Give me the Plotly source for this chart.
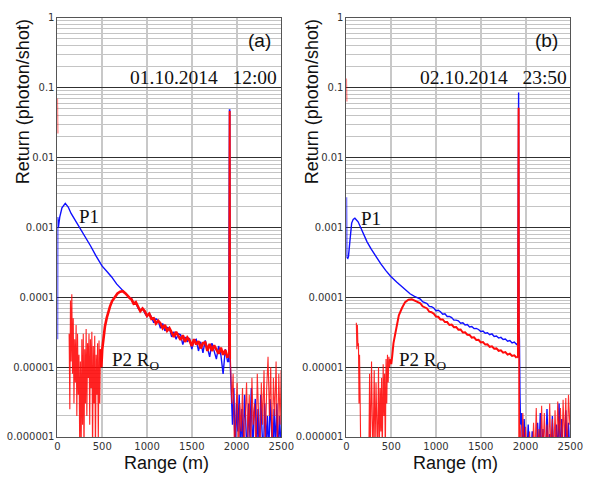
import plotly.graph_objects as go

W, H = 593, 483

# ---------------- data (range in m, return in photon/shot) ----------------
# regularly sampled stretch of the decay curves (sample positions)
r_decay = list(range(825, 1901, 25))

# ---- panel (a) 01.10.2014 12:00 ----
a_p1_r_near = [0, 2, 5, 10, 25, 50, 87, 120, 152, 200, 261, 310, 370, 430, 497, 550, 605, 660, 714, 760, 800]
a_p1_v_near = [2.5e-5, 1.4e-3, 4.0e-4, 1.0e-3, 1.4e-3, 1.9e-3, 2.2e-3, 1.95e-3, 1.58e-3, 1.25e-3, 9.3e-4,
               7.4e-4, 5.4e-4, 3.9e-4, 2.8e-4, 2.35e-4, 1.95e-4, 1.55e-4, 1.3e-4, 1.15e-4, 1.0e-4]
a_p1_v_decay = [9.6e-5, 8.1e-5, 8.3e-5, 7.0e-5, 6.4e-5, 7.0e-5, 5.9e-5, 5.3e-5, 5.9e-5, 5.2e-5, 4.3e-5,
                4.9e-5, 4.6e-5, 3.6e-5, 4.2e-5, 3.3e-5, 3.7e-5, 3.6e-5, 2.7e-5, 3.2e-5, 2.5e-5, 3.0e-5,
                2.9e-5, 2.1e-5, 2.7e-5, 2.3e-5, 2.6e-5, 1.8e-5, 2.4e-5, 2.5e-5, 1.7e-5, 2.3e-5, 1.6e-5,
                2.4e-5, 1.9e-5, 1.4e-5, 2.2e-5, 1.7e-5, 1.3e-5, 2.0e-5, 1.5e-5, 8e-6, 1.8e-5, 1.2e-5]
a_p1_r_far = [1912, 1921, 1925, 1930, 1940, 1955, 1970, 1985, 2000, 2015, 2030, 2045, 2060, 2075, 2090, 2105,
              2120, 2135, 2150, 2165, 2180, 2195, 2210, 2225, 2240, 2255, 2270, 2285, 2300, 2315, 2330,
              2345, 2360, 2375, 2390, 2405, 2420, 2435, 2450, 2465, 2480, 2495]
a_p1_v_far = [1.2e-5, 4.8e-2, 4.8e-2, 1.1e-5, 6e-6, 1.5e-6, 5e-6, 5e-7, 3e-6, 1.2e-6, 4e-6, 5e-7, 2.5e-6,
              6e-7, 4e-6, 1.5e-6, 5e-7, 3e-6, 1.0e-6, 5e-6, 5e-7, 2e-6, 3.5e-6, 6e-7, 2.5e-6, 5e-7, 4e-6,
              1.2e-6, 5e-7, 3e-6, 8e-7, 2e-6, 5e-7, 3.5e-6, 1e-6, 5e-7, 2.5e-6, 7e-7, 3e-6, 5e-7, 2e-6, 8e-7]

a_p2_r_near = [0, 3, None, 130, 138, 145, 152, 160, 168, 176, 184, 192, 200, 208, 216, 224, 232, 240, 248, 256,
               264, 272, 280, 288, 296, 304, 312, 320, 328, 336, 344, 352, 360, 368, 376, 384, 392, 400, 408,
               416, 424, 432, 440, 448, 456, 464, 472, 480]
a_p2_v_near = [0.07, 0.022, None, 3e-5, 2.5e-6, 9e-5, 1.2e-5, 1.1e-4, 8e-6, 5e-5, 3e-6, 2.5e-5, 6e-6, 4e-5,
               2e-6, 3e-5, 4e-6, 1.5e-5, 8e-7, 1.2e-5, 5e-7, 2.5e-5, 1.5e-6, 3e-5, 5e-7, 1.8e-5, 3e-6, 3.5e-5,
               2e-6, 2.2e-5, 7e-6, 3e-5, 1.5e-6, 2.5e-5, 5e-6, 3.2e-5, 5e-7, 2e-5, 3e-6, 2.8e-5, 5e-7, 1.5e-5,
               4e-6, 2.2e-5, 8e-7, 2.4e-5, 3e-6, 1.8e-5]
a_p2_r_rise = [480, 490, 500, 515, 530, 551, 570, 587, 610, 641, 670, 700, 730, 760, 790, 810]
a_p2_v_rise = [1.8e-5, 1.0e-5, 1.8e-5, 2.8e-5, 3.8e-5, 5.1e-5, 6.4e-5, 7.4e-5, 8.8e-5, 1.02e-4, 1.13e-4,
               1.2e-4, 1.22e-4, 1.13e-4, 1.02e-4, 9.6e-5]
a_p2_v_decay = [9.4e-5, 8.1e-5, 8.5e-5, 7.4e-5, 6.3e-5, 6.9e-5, 6.3e-5, 5.4e-5, 5.8e-5, 4.9e-5, 5.0e-5,
                4.2e-5, 4.6e-5, 4.2e-5, 3.6e-5, 4.0e-5, 3.3e-5, 3.6e-5, 3.05e-5, 2.7e-5, 3.2e-5, 2.8e-5,
                2.45e-5, 2.85e-5, 2.3e-5, 2.65e-5, 2.4e-5, 2.0e-5, 2.5e-5, 2.1e-5, 2.35e-5, 1.85e-5, 2.2e-5,
                2.25e-5, 1.7e-5, 2.15e-5, 1.7e-5, 2.05e-5, 1.75e-5, 1.55e-5, 1.9e-5, 1.5e-5, 1.75e-5, 1.35e-5]
a_p2_r_spike = [1900, 1915, 1922, 1926, 1930]
a_p2_v_spike = [1.35e-5, 1.6e-5, 4.5e-2, 4.5e-2, 1.3e-5]
a_p2_r_far = [1930, 1932, 1947, 1962, 1977, 1992, 2007, 2022, 2037, 2052, 2067, 2082, 2097, 2112, 2127, 2142,
              2157, 2172, 2187, 2202, 2217, 2232, 2247, 2262, 2277, 2292, 2307, 2322, 2337, 2352, 2367, 2382,
              2397, 2412, 2427, 2442, 2457, 2472, 2487, 2498]
a_p2_v_far = [1.3e-5, 1.3e-5, 3e-6, 8e-6, 6e-7, 2.5e-6, 6e-6, 5e-7, 3e-6, 1.2e-6, 5e-6, 5e-7, 2e-6, 6e-6, 1e-6,
              4e-6, 5e-7, 7e-6, 1.5e-6, 3e-6, 5e-7, 8e-6, 2e-6, 5e-7, 6e-6, 1.5e-6, 9e-6, 7e-7, 5e-6, 1.4e-5,
              2e-6, 1e-5, 5e-7, 7e-6, 2e-6, 1.2e-5, 5e-7, 8e-6, 1.5e-6, 9e-6]

# ---- panel (b) 02.10.2014 23:50 ----
b_p1_r_near = [0, 3, 15, 22, 40, 58, 75, 94, 130, 185, 230, 275, 330, 384, 440, 493, 560, 638, 710, 760, 800]
b_p1_v_near = [2.7e-3, 3.7e-4, 3.6e-4, 3.8e-4, 6.7e-4, 1.15e-3, 1.3e-3, 1.35e-3, 1.2e-3, 8.3e-4, 6.2e-4,
               4.9e-4, 3.8e-4, 3.0e-4, 2.4e-4, 2.0e-4, 1.65e-4, 1.34e-4, 1.12e-4, 1.03e-4, 9.6e-5]
b_p1_v_decay = [9.4e-5, 8.6e-5, 8.4e-5, 8.1e-5, 7.4e-5, 7.3e-5, 7.0e-5, 6.4e-5, 6.5e-5, 6.2e-5, 5.7e-5,
                5.8e-5, 5.3e-5, 5.3e-5, 5.1e-5, 4.7e-5, 4.7e-5, 4.6e-5, 4.25e-5, 4.3e-5, 4.0e-5, 4.05e-5,
                3.75e-5, 3.8e-5, 3.55e-5, 3.58e-5, 3.45e-5, 3.22e-5, 3.28e-5, 3.05e-5, 3.1e-5, 2.9e-5, 2.98e-5,
                2.74e-5, 2.78e-5, 2.6e-5, 2.66e-5, 2.48e-5, 2.52e-5, 2.35e-5, 2.4e-5, 2.22e-5, 2.28e-5, 2.1e-5]
b_p1_r_far = [1913, 1920, 1923, 1927, 1932, 1938, 1945, 1955, 1970, 1985, 2000, 2015, 2030, 2045, 2060, 2075,
              2090, 2105, 2120, 2135, 2150, 2165, 2180, 2195, 2210, 2225, 2240, 2255, 2270, 2285, 2300, 2315,
              2330, 2345, 2360, 2375, 2390, 2405, 2420, 2435, 2450, 2465, 2480, 2495]
b_p1_v_far = [2.2e-5, 8.5e-2, 8.5e-2, 3.5e-5, 2.5e-5, 4e-6, 1.5e-6, 2.2e-6, 5e-7, 1.8e-6, 5e-7, 5e-7, 1.5e-6,
              5e-7, 5e-7, 1.2e-6, 5e-7, 5e-7, 5e-7, 1.6e-6, 5e-7, 2.2e-6, 5e-7, 1.3e-6, 5e-7, 5e-7, 2.5e-6,
              5e-7, 1.1e-6, 5e-7, 2e-6, 5e-7, 5e-7, 1.5e-6, 5e-7, 3e-6, 5e-7, 1.8e-6, 5e-7, 5e-7, 2.4e-6,
              5e-7, 1.6e-6, 5e-7]

b_p2_r_near = [0, 3, None, 110, 116, 122, 128, 134, 140, 146, 152, 160, 250, 258, 266, 280, 288, 296, 310, 318,
               330, 338, 346, 358, 366, 376, 384, 392, 400, 410, 418, 426, 434, 442, 450, 458, 466, 474, 482, 490]
b_p2_v_near = [0.135, 0.063, None, 4.3e-5, 1.8e-5, 4.0e-5, 2.0e-5, 2.2e-5, 3e-6, 1.5e-5, 4e-6, 5e-7, 5e-7,
               8e-6, 5e-7, 1.2e-5, 2e-6, 5e-7, 9e-6, 5e-7, 6e-6, 1.5e-6, 5e-7, 1e-5, 5e-7, 5e-6, 1.2e-6, 7e-6,
               5e-7, 1.1e-5, 2e-6, 8e-6, 5e-7, 1.3e-5, 3e-6, 1.5e-5, 6e-6, 1.4e-5, 1e-5, 1.3e-5]
b_p2_r_rise = [490, 500, 510, 525, 545, 565, 585, 620, 655, 692, 730, 780, 810]
b_p2_v_rise = [1.3e-5, 1.1e-5, 1.4e-5, 2.2e-5, 3.0e-5, 4.3e-5, 5.5e-5, 7.0e-5, 8.5e-5, 9.2e-5, 9.3e-5,
               8.7e-5, 8.3e-5]
b_p2_v_decay = [8.2e-5, 7.4e-5, 7.2e-5, 6.9e-5, 6.2e-5, 6.1e-5, 5.8e-5, 5.3e-5, 5.25e-5, 4.8e-5, 4.8e-5,
                4.4e-5, 4.4e-5, 4.0e-5, 4.05e-5, 3.72e-5, 3.75e-5, 3.42e-5, 3.45e-5, 3.12e-5, 3.15e-5, 2.9e-5,
                2.88e-5, 2.64e-5, 2.66e-5, 2.45e-5, 2.46e-5, 2.25e-5, 2.28e-5, 2.1e-5, 2.12e-5, 1.95e-5,
                1.98e-5, 1.83e-5, 1.85e-5, 1.71e-5, 1.74e-5, 1.61e-5, 1.64e-5, 1.51e-5, 1.55e-5, 1.44e-5,
                1.47e-5, 1.36e-5]
b_p2_r_spike = [1900, 1914, 1921, 1925, 1929]
b_p2_v_spike = [1.36e-5, 1.4e-5, 5e-2, 5e-2, 5e-7]
b_p2_r_far = [1940, 1955, 1970, 1985, 2000, 2015, 2030, 2045, 2060, 2075, 2090, 2105, 2120, 2135, 2150, 2165,
              2180, 2195, 2210, 2225, 2240, 2255, 2270, 2285, 2300, 2315, 2330, 2345, 2360, 2375, 2390, 2405,
              2420, 2435, 2450, 2465, 2480, 2495]
b_p2_v_far = [1.5e-6, 5e-7, 2.2e-6, 5e-7, 1.4e-6, 5e-7, 5e-7, 1.2e-6, 5e-7, 5e-7, 1.6e-6, 5e-7, 2.6e-6, 5e-7,
              1.3e-6, 5e-7, 2.8e-6, 5e-7, 2.2e-6, 5e-7, 1.5e-6, 5e-7, 3e-6, 5e-7, 1.8e-6, 5e-7, 2.4e-6, 5e-7,
              3.2e-6, 1e-6, 2.6e-6, 5e-7, 3.4e-6, 8e-7, 3.6e-6, 5e-7, 4e-6, 1.5e-6]

y_ticks = [1e-6, 1e-5, 1e-4, 1e-3, 1e-2, 1e-1, 1]
y_ticktext = ["0.000001", "0.00001", "0.0001", "0.001", "0.01", "0.1", "1"]
x_ticks = [0, 500, 1000, 1500, 2000, 2500]

# ---------------- figure ----------------
BLUE = "#1010ff"
RED = "#ff0a0a"

fig = go.Figure()

panels = [
    ("x", "y", a_p1_r_near + r_decay + a_p1_r_far, a_p1_v_near + a_p1_v_decay + a_p1_v_far,
     a_p2_r_near, a_p2_v_near, a_p2_r_rise + r_decay, a_p2_v_rise + a_p2_v_decay,
     a_p2_r_spike, a_p2_v_spike, a_p2_r_far, a_p2_v_far, 2.6),
    ("x2", "y2", b_p1_r_near + r_decay + b_p1_r_far, b_p1_v_near + b_p1_v_decay + b_p1_v_far,
     b_p2_r_near, b_p2_v_near, b_p2_r_rise + r_decay, b_p2_v_rise + b_p2_v_decay,
     b_p2_r_spike, b_p2_v_spike, b_p2_r_far, b_p2_v_far, 2.0),
]

for xa, ya, p1r, p1v, nr, nv, mr, mv, sr, sv, fr, fv, mw in panels:
    assert len(p1r) == len(p1v) and len(nr) == len(nv) and len(mr) == len(mv)
    assert len(sr) == len(sv) and len(fr) == len(fv)
    common = dict(mode="lines", xaxis=xa, yaxis=ya, showlegend=False, hoverinfo="skip")
    fig.add_trace(go.Scatter(x=p1r, y=p1v, line=dict(color=BLUE, width=1.4), **common))
    fig.add_trace(go.Scatter(x=nr, y=nv, line=dict(color=RED, width=1.1), opacity=0.9,
                             connectgaps=False, **common))
    fig.add_trace(go.Scatter(x=mr, y=mv, line=dict(color=RED, width=mw), **common))
    fig.add_trace(go.Scatter(x=sr, y=sv, line=dict(color=RED, width=1.6), **common))
    fig.add_trace(go.Scatter(x=fr, y=fv, line=dict(color=RED, width=1.1), opacity=0.85, **common))

minor_vals = [m * 10.0 ** e for e in range(-6, 0) for m in range(2, 10)]
tickfont = dict(family="DejaVu Sans, Arial", size=10, color="#333")


def xaxis_cfg(x0, x1, anchor):
    return dict(domain=[x0 / W, x1 / W], anchor=anchor, range=[0, 2500], tickvals=x_ticks,
                ticks="", showgrid=True, gridcolor="#c8c8c8", gridwidth=1.6, zeroline=False,
                showline=True, linecolor="#555", linewidth=1, mirror=True, tickfont=tickfont)


def yaxis_cfg(anchor):
    return dict(domain=[41 / H, 470 / H], anchor=anchor, type="log", range=[-6, 0],
                tickvals=y_ticks, ticktext=y_ticktext, ticks="", showgrid=True, gridcolor="#303030",
                gridwidth=1, zeroline=False, showline=True, linecolor="#555", linewidth=1, mirror=True,
                tickfont=tickfont,
                minor=dict(tickvals=minor_vals, showgrid=True, gridcolor="#c4c4c4", gridwidth=1, ticks=""))


def ann(text, px, py, size, family, **kw):
    d = dict(text=text, x=px / W, y=1 - py / H, xref="paper", yref="paper", showarrow=False,
             xanchor="center", yanchor="middle",
             font=dict(family=family, size=size, color="#111"))
    d.update(kw)
    return d


SANS = "Liberation Sans, Arial"
SERIF = "Liberation Serif, Times New Roman"
nb = "\u00a0\u00a0\u00a0"

annotations = [
    ann("Return (photon/shot)", 20, 99, 18, SANS, textangle=-90),
    ann("Return (photon/shot)", 317, 99, 18, SANS, textangle=-90),
    ann("Range (m)", 168, 469, 18, SANS),
    ann("Range (m)", 465, 469, 18, SANS),
    ann("(a)", 264, 36, 19, SANS),
    ann("(b)", 559, 36, 19, SANS),
    ann("01.10.2014" + nb + "12:00", 284, 74, 19.5, SERIF, xanchor="right"),
    ann("02.10.2014" + nb + "23:50", 582, 74, 19.5, SERIF, xanchor="right"),
    ann("P1", 88, 216, 19, SERIF),
    ann("P1", 378, 218, 19, SERIF),
    ann("P2 R<sub>O</sub>", 110, 364, 19, SERIF, xanchor="left"),
    ann("P2 R<sub>O</sub>", 405, 364, 19, SERIF, xanchor="left"),
]

fig.update_layout(
    width=W, height=H,
    margin=dict(l=0, r=0, t=0, b=0),
    paper_bgcolor="white", plot_bgcolor="white",
    xaxis=xaxis_cfg(56, 286, "y"),
    yaxis=yaxis_cfg("x"),
    xaxis2=xaxis_cfg(353, 583, "y2"),
    yaxis2=yaxis_cfg("x2"),
    annotations=annotations,
    showlegend=False,
)

fig.write_html("out.html", config={"displayModeBar": False},
               post_script="document.body.style.margin='0';")
